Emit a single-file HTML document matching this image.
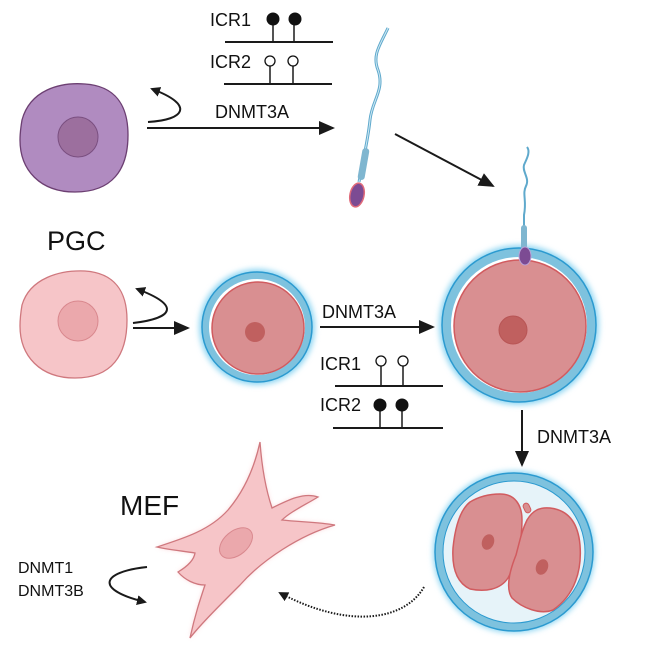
<!DOCTYPE html>
<html><head><meta charset="utf-8"><style>
html,body{margin:0;padding:0;background:#fff;}
svg{display:block;}
text{font-family:"Liberation Sans",sans-serif;fill:#111;}
</style></head><body>
<svg width="646" height="650" viewBox="0 0 646 650" xmlns="http://www.w3.org/2000/svg">
<defs>
<marker id="ah" markerWidth="10" markerHeight="10" refX="8" refY="5" orient="auto" markerUnits="userSpaceOnUse">
<path d="M0,0 L10,5 L0,10 z" fill="#1a1a1a"/></marker>
<marker id="ah2" markerWidth="16" markerHeight="14" refX="14" refY="7" orient="auto" markerUnits="userSpaceOnUse">
<path d="M0,0 L16,7 L0,14 z" fill="#1a1a1a"/></marker>
<filter id="glowB" x="-30%" y="-30%" width="160%" height="160%"><feGaussianBlur stdDeviation="3"/></filter>
<filter id="glowP" x="-30%" y="-30%" width="160%" height="160%"><feGaussianBlur stdDeviation="2.5"/></filter>
</defs>

<!-- PGC -->
<path d="M22,120 C30,90 60,82 85,84 C115,86 128,105 128,135 C128,170 112,192 75,192 C40,192 20,170 20,140 C20,132 21,126 22,120 z" fill="#b08bc0" stroke="#6c3f72" stroke-width="1.3"/>
<circle cx="78" cy="137" r="20" fill="#9c6f9e" stroke="#7a4f80" stroke-width="1"/>
<text x="47" y="250" font-size="27">PGC</text>
<path d="M148,122 C185,120 195,105 152,89" fill="none" stroke="#1a1a1a" stroke-width="2" marker-end="url(#ah)"/>
<line x1="147" y1="128" x2="333" y2="128" stroke="#1a1a1a" stroke-width="2" marker-end="url(#ah2)"/>
<text x="215" y="118" font-size="18">DNMT3A</text>

<!-- ICR top -->
<text x="210" y="26" font-size="18">ICR1</text>
<line x1="225" y1="42" x2="333" y2="42" stroke="#1a1a1a" stroke-width="2"/>
<line x1="273" y1="20" x2="273" y2="42" stroke="#1a1a1a" stroke-width="1.5"/>
<line x1="294" y1="20" x2="294" y2="42" stroke="#1a1a1a" stroke-width="1.5"/>
<circle cx="273" cy="19" r="6.5" fill="#111"/><circle cx="295" cy="19" r="6.5" fill="#111"/>
<text x="210" y="68" font-size="18">ICR2</text>
<line x1="224" y1="84" x2="332" y2="84" stroke="#1a1a1a" stroke-width="2"/>
<line x1="270" y1="66" x2="270" y2="84" stroke="#1a1a1a" stroke-width="1.5"/>
<line x1="293" y1="66" x2="293" y2="84" stroke="#1a1a1a" stroke-width="1.5"/>
<circle cx="270" cy="61" r="5" fill="#fff" stroke="#111" stroke-width="1.3"/><circle cx="293" cy="61" r="5" fill="#fff" stroke="#111" stroke-width="1.3"/>

<!-- sperm 1 -->
<path d="M388,28 C380,45 372,55 378,70 C385,90 372,100 370,120 C368,140 363,160 359,182" fill="none" stroke="#5fa9cc" stroke-width="3"/>
<path d="M388,28 C380,45 372,55 378,70 C385,90 372,100 370,120 C368,140 363,160 359,182" fill="none" stroke="#cfe9f4" stroke-width="1"/>
<rect x="360" y="148" width="7" height="32" rx="3" fill="#7fb6d0" transform="rotate(10 363 164)"/>
<ellipse cx="357" cy="195" rx="7" ry="12" fill="#7c4b93" stroke="#e06a7a" stroke-width="1.5" transform="rotate(12 357 195)"/>

<line x1="395" y1="134" x2="493" y2="186" stroke="#1a1a1a" stroke-width="2" marker-end="url(#ah2)"/>

<!-- pink cell row 2 -->
<path d="M22,305 C30,278 60,270 85,271 C115,273 127,292 127,320 C127,355 112,378 75,378 C40,378 20,356 20,326 C20,318 21,311 22,305 z" fill="#f6c5c8" stroke="#cf787e" stroke-width="1.3"/>
<circle cx="78" cy="321" r="20" fill="#eba8ac" stroke="#d9888e" stroke-width="1"/>
<path d="M133,323 C175,318 180,305 137,289" fill="none" stroke="#1a1a1a" stroke-width="2" marker-end="url(#ah)"/>
<line x1="133" y1="328" x2="188" y2="328" stroke="#1a1a1a" stroke-width="2" marker-end="url(#ah2)"/>

<!-- small oocyte -->
<circle cx="257" cy="327" r="58" fill="#8fd6f2" filter="url(#glowB)"/>
<circle cx="257" cy="327" r="55" fill="#7ec2de" stroke="#2b9ad0" stroke-width="1.5"/>
<circle cx="257" cy="327" r="48" fill="#fff"/>
<circle cx="258" cy="328" r="46" fill="#d98f91" stroke="#d15b5f" stroke-width="1.5"/>
<circle cx="255" cy="332" r="10" fill="#c0605f"/>

<text x="322" y="318" font-size="18">DNMT3A</text>
<line x1="320" y1="327" x2="433" y2="327" stroke="#1a1a1a" stroke-width="2" marker-end="url(#ah2)"/>

<text x="320" y="370" font-size="18">ICR1</text>
<line x1="335" y1="386" x2="443" y2="386" stroke="#1a1a1a" stroke-width="2"/>
<line x1="381" y1="366" x2="381" y2="386" stroke="#1a1a1a" stroke-width="1.5"/>
<line x1="403" y1="366" x2="403" y2="386" stroke="#1a1a1a" stroke-width="1.5"/>
<circle cx="381" cy="361" r="5" fill="#fff" stroke="#111" stroke-width="1.3"/><circle cx="403" cy="361" r="5" fill="#fff" stroke="#111" stroke-width="1.3"/>
<text x="320" y="411" font-size="18">ICR2</text>
<line x1="333" y1="428" x2="443" y2="428" stroke="#1a1a1a" stroke-width="2"/>
<line x1="380" y1="406" x2="380" y2="428" stroke="#1a1a1a" stroke-width="1.5"/>
<line x1="402" y1="406" x2="402" y2="428" stroke="#1a1a1a" stroke-width="1.5"/>
<circle cx="380" cy="405" r="6.5" fill="#111"/><circle cx="402" cy="405" r="6.5" fill="#111"/>

<!-- big oocyte -->
<circle cx="519" cy="325" r="80" fill="#8fd6f2" filter="url(#glowB)"/>
<circle cx="519" cy="325" r="77" fill="#7ec2de" stroke="#2b9ad0" stroke-width="1.5"/>
<circle cx="519" cy="325" r="68" fill="#fff"/>
<circle cx="520" cy="326" r="66" fill="#d98f91" stroke="#d15b5f" stroke-width="1.5"/>
<circle cx="513" cy="330" r="14" fill="#c0605f" stroke="#b85555" stroke-width="1"/>
<!-- sperm 2 -->
<path d="M527,147 C531,152 526,160 524,165 C522,172 530,178 526,186 C522,194 527,200 524,215 L524,228" fill="none" stroke="#5fa9cc" stroke-width="2"/>
<rect x="521" y="225" width="6" height="25" rx="3" fill="#7fb6d0"/>
<ellipse cx="525" cy="256" rx="6" ry="9" fill="#7c4b93" stroke="#b9a3d8" stroke-width="1"/>

<line x1="522" y1="410" x2="522" y2="465" stroke="#1a1a1a" stroke-width="2" marker-end="url(#ah2)"/>
<text x="537" y="443" font-size="18">DNMT3A</text>

<!-- two-cell embryo -->
<circle cx="514" cy="552" r="81" fill="#8fd6f2" filter="url(#glowB)"/>
<circle cx="514" cy="552" r="79" fill="#7ec2de" stroke="#2b9ad0" stroke-width="1.5"/>
<circle cx="514" cy="552" r="71" fill="#e6f3f9" stroke="#2b9ad0" stroke-width="1"/>
<path d="M500,494 C515,494 522,505 522,520 C522,540 518,560 508,578 C500,590 485,592 470,589 C455,582 452,565 453,548 C455,528 460,510 470,502 C480,496 490,494 500,494 z" fill="#d98f91" stroke="#d15b5f" stroke-width="1.5"/>
<path d="M550,508 C568,510 578,522 580,545 C582,570 575,595 553,610 C540,615 522,608 512,598 C505,588 510,570 516,555 C520,540 522,530 527,520 C533,510 540,507 550,508 z" fill="#d98f91" stroke="#d15b5f" stroke-width="1.5"/>
<ellipse cx="488" cy="542" rx="6" ry="8" fill="#c0605f" transform="rotate(20 488 542)"/>
<ellipse cx="542" cy="567" rx="6" ry="8" fill="#c0605f" transform="rotate(20 542 567)"/>
<rect x="524" y="503" width="6" height="10" rx="3" fill="#d98f91" stroke="#d15b5f" stroke-width="1" transform="rotate(-25 527 508)"/>

<!-- dotted arrow -->
<path d="M424,587 C405,620 350,630 280,593" fill="none" stroke="#1a1a1a" stroke-width="2" stroke-dasharray="1.5,1.5" marker-end="url(#ah)"/>

<!-- MEF -->
<text x="120" y="515" font-size="28">MEF</text>
<path d="M260,442 C262,470 266,490 272,508 C288,500 304,492 318,497 C305,505 290,512 282,520 C300,522 318,522 335,525 C300,535 262,560 240,585 C220,605 200,625 190,638 C195,615 200,600 205,585 C195,585 185,580 178,572 C188,566 194,560 195,553 C183,551 170,550 157,547 C185,538 210,530 228,510 C245,490 255,465 260,442 z" fill="#f9b7bb" filter="url(#glowP)" opacity="0.6"/>
<path d="M260,442 C262,470 266,490 272,508 C288,500 304,492 318,497 C305,505 290,512 282,520 C300,522 318,522 335,525 C300,535 262,560 240,585 C220,605 200,625 190,638 C195,615 200,600 205,585 C195,585 185,580 178,572 C188,566 194,560 195,553 C183,551 170,550 157,547 C185,538 210,530 228,510 C245,490 255,465 260,442 z" fill="#f6c5c8" stroke="#cf787e" stroke-width="1.3"/>
<ellipse cx="236" cy="543" rx="19" ry="12" fill="#eba8ac" stroke="#d9888e" stroke-width="1" transform="rotate(-40 236 543)"/>

<text x="18" y="573" font-size="16">DNMT1</text>
<text x="18" y="596" font-size="16">DNMT3B</text>
<path d="M147,567 C100,572 95,590 145,602" fill="none" stroke="#1a1a1a" stroke-width="2" marker-end="url(#ah)"/>
</svg>
</body></html>
